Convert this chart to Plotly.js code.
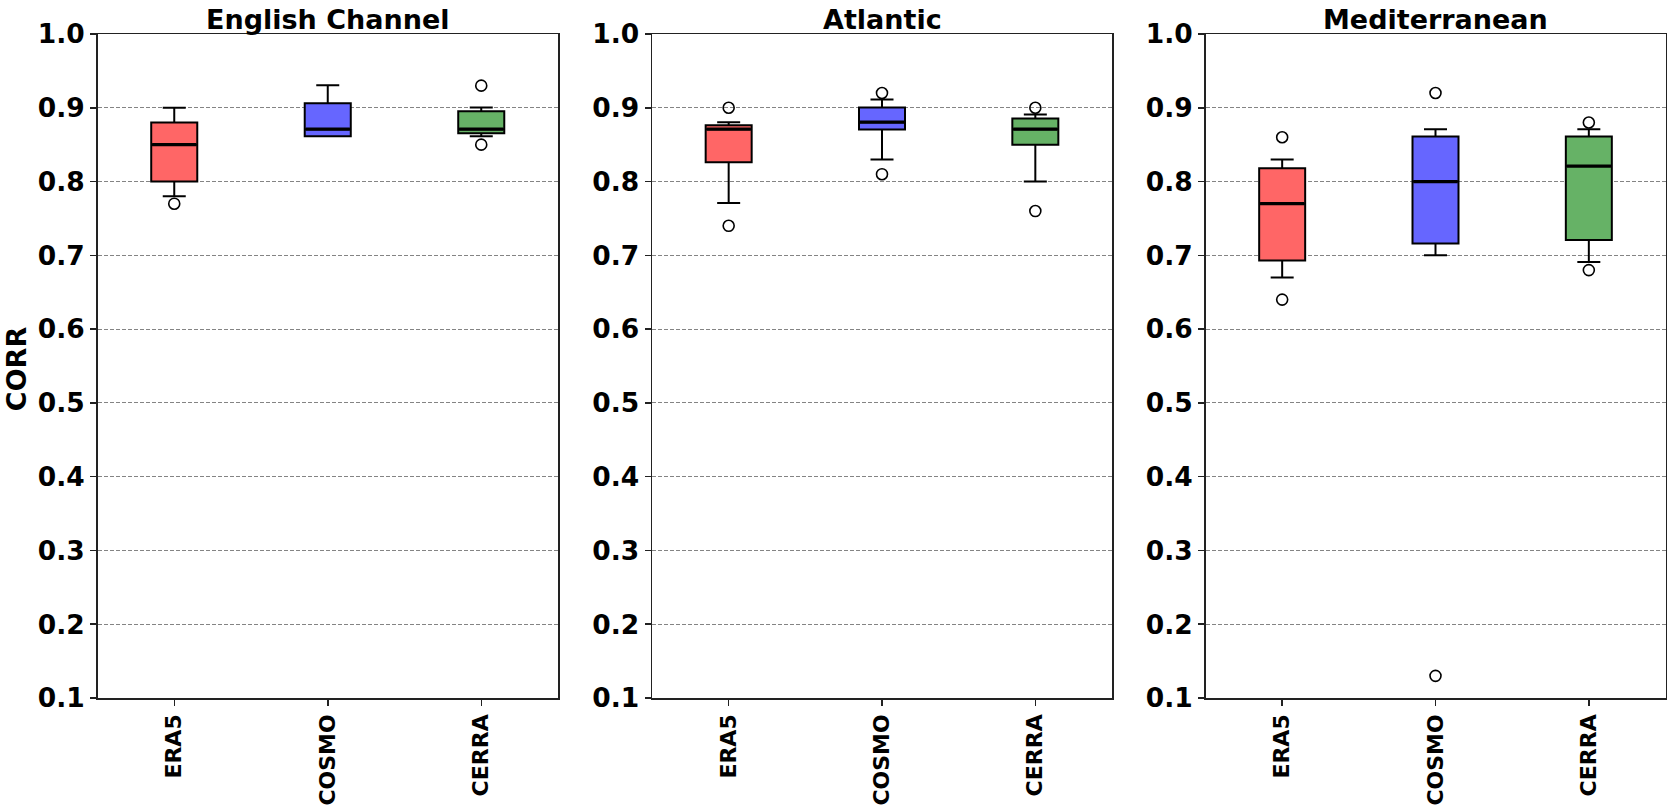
<!DOCTYPE html>
<html>
<head>
<meta charset="utf-8">
<script src="https://cdn.plot.ly/plotly-3.0.1.min.js"></script>
<style>html,body{margin:0;padding:0;background:#fff;}#chart{width:1667px;height:805px;}</style>
</head>
<body>
<div id="chart"></div>
<script>
// ---- data ----
const categories = ['ERA5', 'COSMO', 'CERRA'];
const regions = ['English Channel', 'Atlantic', 'Mediterranean'];
const yTitle = 'CORR';
// per region: [ERA5, COSMO, CERRA]
const whiskerLow  = [[0.78, 0.8615, 0.8615], [0.771, 0.830, 0.800], [0.670, 0.700, 0.691]];
const q1          = [[0.80, 0.8615, 0.8656], [0.826, 0.8706, 0.850], [0.693, 0.716, 0.7207]];
const median      = [[0.85, 0.871, 0.871],   [0.871, 0.8805, 0.871], [0.770, 0.800, 0.821]];
const q3          = [[0.88, 0.906, 0.8954],  [0.8764, 0.9004, 0.8855], [0.818, 0.861, 0.861]];
const whiskerHigh = [[0.90, 0.9306, 0.9004], [0.8805, 0.9112, 0.891], [0.830, 0.871, 0.871]];
const outliers    = [
  [[0.77], [], [0.93, 0.85]],
  [[0.90, 0.74], [0.92, 0.81], [0.90, 0.76]],
  [[0.86, 0.64], [0.92, 0.13], [0.88, 0.68]]
];
const yTicks = [0.1, 0.2, 0.3, 0.4, 0.5, 0.6, 0.7, 0.8, 0.9, 1.0];

// ---- styling ----
const fills = ['#FF6666', '#6666FF', '#66B266'];
const FONT = 'DejaVu Sans';
const W = 1667;
const domains = [[97.5 / W, 558 / W], [652 / W, 1112 / W], [1205.5 / W, 1665.5 / W]];
const boxW = 0.3;

const traces = [];
const layout = {
  width: 1667, height: 805,
  margin: {l: 0, r: 0, t: 34, b: 107},
  paper_bgcolor: '#fff', plot_bgcolor: '#fff',
  showlegend: false,
  boxmode: 'overlay',
  font: {family: FONT, color: '#000'},
  annotations: []
};

regions.forEach((reg, r) => {
  const xa = r === 0 ? 'x' : 'x' + (r + 1);
  const ya = r === 0 ? 'y' : 'y' + (r + 1);
  categories.forEach((cat, i) => {
    traces.push({
      type: 'box', xaxis: xa, yaxis: ya,
      x: [i], q1: [q1[r][i]], median: [median[r][i]], q3: [q3[r][i]],
      lowerfence: [whiskerLow[r][i]], upperfence: [whiskerHigh[r][i]],
      width: boxW, whiskerwidth: 0.5, boxpoints: false,
      fillcolor: fills[i], line: {color: '#000', width: 2},
      hoverinfo: 'skip'
    });
  });
  // thicker median lines
  const mx = [], my = [];
  categories.forEach((cat, i) => {
    mx.push(i - boxW / 2 + 0.006, i + boxW / 2 - 0.006, null);
    my.push(median[r][i], median[r][i], null);
  });
  traces.push({type: 'scatter', mode: 'lines', xaxis: xa, yaxis: ya, x: mx, y: my,
    line: {color: '#000', width: 3.3}, hoverinfo: 'skip'});
  // outliers
  const ox = [], oy = [];
  categories.forEach((cat, i) => {
    outliers[r][i].forEach(v => { ox.push(i); oy.push(v); });
  });
  traces.push({type: 'scatter', mode: 'markers', xaxis: xa, yaxis: ya, x: ox, y: oy,
    marker: {symbol: 'circle-open', size: 11, color: '#000', line: {color: '#000', width: 1.6}},
    hoverinfo: 'skip', cliponaxis: false});

  const xkey = r === 0 ? 'xaxis' : 'xaxis' + (r + 1);
  const ykey = r === 0 ? 'yaxis' : 'yaxis' + (r + 1);
  layout[xkey] = {
    domain: domains[r], anchor: ya, range: [-0.5, 2.5],
    tickmode: 'array', tickvals: categories.map((c, i) => i), ticktext: categories,
    tickangle: -90, tickfont: {family: FONT, size: 22, weight: 'bold', color: '#000'},
    showgrid: false, zeroline: false, showline: true, mirror: true,
    linecolor: '#222', linewidth: 1.5, ticks: 'outside', ticklen: 6, tickwidth: 1.5, tickcolor: '#222',
    fixedrange: true
  };
  layout[ykey] = {
    domain: [0, 1], anchor: xa, range: [0.1, 1.0],
    tickmode: 'array', tickvals: yTicks, ticktext: yTicks.map(v => v.toFixed(1)),
    tickfont: {family: FONT, size: 26.5, weight: 'bold', color: '#000'},
    showgrid: true, gridcolor: 'rgba(110,110,110,0.85)', gridwidth: 1, griddash: '4px,2px',
    zeroline: false, showline: true, mirror: true,
    linecolor: '#222', linewidth: 1.5, ticks: 'outside', ticklen: 6, tickwidth: 1.5, tickcolor: '#222',
    fixedrange: true
  };
  layout.annotations.push({
    text: reg, xref: 'paper', yref: 'paper',
    x: (domains[r][0] + domains[r][1]) / 2, y: 1, xanchor: 'center', yanchor: 'bottom',
    yshift: -2, showarrow: false, borderpad: 0,
    font: {family: FONT, size: 27, weight: 'bold', color: '#000'}
  });
});

layout.annotations.push({
  text: yTitle, xref: 'paper', yref: 'paper', x: 0, y: 0.496,
  xanchor: 'left', yanchor: 'middle', textangle: -90, showarrow: false, borderpad: 0,
  font: {family: FONT, size: 27, weight: 'bold', color: '#000'}
});

Plotly.newPlot('chart', traces, layout, {displayModeBar: false, staticPlot: true});
</script>
</body>
</html>
